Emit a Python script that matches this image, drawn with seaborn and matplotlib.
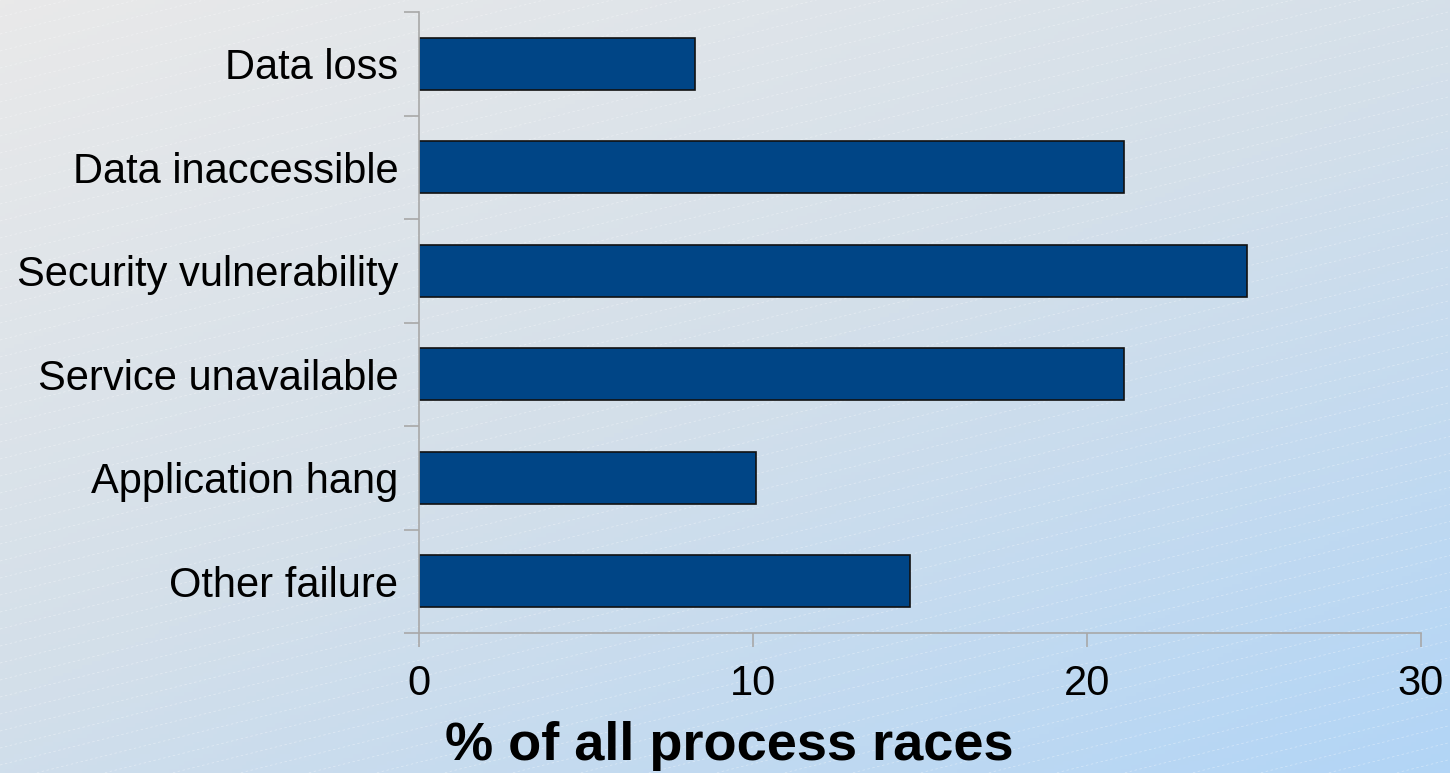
import numpy as np
import pandas as pd
import matplotlib
matplotlib.use("Agg")
import matplotlib.pyplot as plt
from matplotlib.colors import LinearSegmentedColormap
import seaborn as sns

categories = ["Data loss", "Data inaccessible", "Security vulnerability",
              "Service unavailable", "Application hang", "Other failure"]
values = [8.25, 21.1, 24.8, 21.1, 10.1, 14.7]
x_ticks = [0, 10, 20, 30]
x_label = "% of all process races"

sns.set_theme(style="white")
plt.rcParams["font.family"] = ["Liberation Sans", "DejaVu Sans"]

W, H = 1450, 773
fig = plt.figure(figsize=(W / 100, H / 100), dpi=100)

# background gradient
bg = fig.add_axes([0, 0, 1, 1], zorder=-10)
yy, xx = np.mgrid[0:1:200j, 0:1:300j]
t = 0.55 * yy + 0.45 * xx
cmap = LinearSegmentedColormap.from_list("bg", ["#e9e9e9", "#d3dfea", "#b2d5f6"])
bg.imshow(t, cmap=cmap, extent=[0, W, H, 0], aspect="auto", origin="upper")
for c in np.arange(0, H + 0.25 * W, 17):
    bg.plot([0, W], [c, c - 0.25 * W], color="white", alpha=0.35,
            lw=0.6, ls=(0, (3, 3)))
bg.set_xlim(0, W)
bg.set_ylim(H, 0)
bg.axis("off")

ax = fig.add_axes([419 / W, 1 - 633 / H, (1421 - 419) / W, (633 - 12) / H])
ax.patch.set_alpha(0)
df = pd.DataFrame({"category": categories, "value": values})
sns.barplot(data=df, x="value", y="category", color="#004586", width=0.5,
            edgecolor="#111111", linewidth=1.2, saturation=1, ax=ax)

ax.set_xlim(0, 30)
ax.set_ylim(5.5, -0.5)
ax.set_xticks(x_ticks)
ax.set_xticklabels([str(v) for v in x_ticks], fontsize=30, color="black")
ax.set_yticks(range(len(categories)))
ax.set_yticklabels(categories, fontsize=30, color="black")
ax.set_yticks(np.arange(-0.5, len(categories), 1.0), minor=True)
ax.tick_params(axis="y", which="major", length=0, pad=15)
ax.tick_params(axis="y", which="minor", length=11, width=1.2, color="#a8a8a8", left=True)
ax.tick_params(axis="x", which="major", length=10, width=1.2, color="#a8a8a8",
               bottom=True, pad=12)
ax.set_xlabel("")
ax.set_ylabel("")
for s in ["top", "right"]:
    ax.spines[s].set_visible(False)
for s in ["left", "bottom"]:
    ax.spines[s].set_color("#a8a8a8")
    ax.spines[s].set_linewidth(1.2)

fig.text(729 / W, 1 - 746 / H, x_label, ha="center", va="center",
         fontsize=39, fontweight="bold", color="black")

fig.savefig("out.png", dpi=100)
